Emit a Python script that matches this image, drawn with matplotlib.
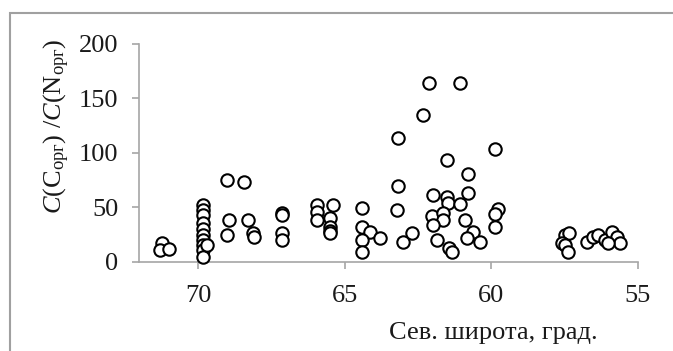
import matplotlib
matplotlib.use("Agg")
import matplotlib.pyplot as plt
from matplotlib.patches import Rectangle

plt.rcParams['font.family'] = ['Liberation Serif', 'DejaVu Serif']
plt.rcParams['mathtext.fontset'] = 'custom'
plt.rcParams['mathtext.rm'] = 'Liberation Serif'
plt.rcParams['mathtext.it'] = 'Liberation Serif:italic'

latitude = [
    71.25, 71.31, 70.99,
    69.85, 69.85, 69.85, 69.85, 69.85, 69.85, 69.85, 69.85, 69.85, 69.85, 69.71,
    69.03, 68.94, 69.03, 68.43, 68.29, 68.12, 68.09,
    67.15, 67.15, 67.15, 67.15,
    65.95, 65.95, 65.95, 65.39, 65.50, 65.50, 65.50, 65.50,
    64.42, 64.42, 64.14, 63.79, 64.42, 64.42,
    63.17, 63.17, 63.23, 63.00, 62.71, 62.32, 62.11, 61.07,
    61.98, 61.50, 61.46, 61.06, 60.78, 62.03, 61.64, 61.64, 61.98,
    60.89, 60.61, 60.84, 60.38, 61.86, 61.43, 61.35, 61.52, 60.78,
    59.87, 59.76, 59.87, 59.87,
    57.48, 57.35, 57.59, 57.48, 57.37,
    56.74, 56.51, 56.34, 56.11, 55.89, 55.72, 55.60, 56.00,
]
ratio = [
    16.7, 10.6, 11.2,
    52, 47, 43, 35, 30, 24, 20, 15, 11, 4.5, 15,
    75, 38.2, 24.4, 73.4, 38.2, 25.9, 22.3,
    44.3, 42.5, 25.9, 19.8,
    52, 45.8, 38.2, 52, 39.7, 32, 28, 26,
    49, 32, 27.4, 21.3, 19.8, 9,
    113.3, 69.5, 47.4, 18.2, 25.9, 134.8, 163.9, 164.5,
    61.2, 59.6, 54.1, 52.9, 62.7, 41.9, 44.3, 38.2, 33.6,
    38.2, 27.4, 21.3, 18.2, 19.8, 12.1, 9.0, 93.4, 80.5,
    103.2, 48, 43.7, 32,
    24.4, 26, 16.7, 15.2, 9,
    18.2, 22.8, 24.4, 19.8, 27.4, 22.8, 16.7, 16.7,
]
x_ticks = [70, 65, 60, 55]
y_ticks = [0, 50, 100, 150, 200]

fig = plt.figure(figsize=(6.73, 3.51), dpi=100)
ax = fig.add_axes([139/673, 1-261.5/351, (637.7-139)/673, (261.5-44)/351])

ax.scatter(latitude, ratio, s=80, facecolors='white', edgecolors='black',
           linewidths=1.5, zorder=3, clip_on=False)

ax.set_xlim(72.02, 55)
ax.set_ylim(0, 200)
ax.set_xticks(x_ticks)
ax.set_yticks(y_ticks)

grey = '#a6a6a6'
for s in ['top', 'right']:
    ax.spines[s].set_visible(False)
for s in ['left', 'bottom']:
    ax.spines[s].set_color(grey)
    ax.spines[s].set_linewidth(1.2)
ax.tick_params(axis='both', colors=grey, labelcolor='#1a1a1a', labelsize=19,
               direction='out', length=5, width=1.2)
ax.tick_params(axis='y', pad=10)
ax.tick_params(axis='x', pad=12)

ax.set_ylabel(r"$\mathit{C}$(C$_{\mathrm{орг}}$) /$\mathit{C}$(N$_{\mathrm{орг}}$)",
              fontsize=19, color='#1a1a1a')
ax.yaxis.set_label_coords(-0.135, 0.62)
ax.set_xlabel("Сев. широта, град.", fontsize=19, color='#1a1a1a')
ax.xaxis.set_label_coords(0.71, -0.28)

fig.patches.append(Rectangle((10/673, -0.1), 1.2, 1.1 - 13/351,
                             transform=fig.transFigure, fill=False,
                             edgecolor='#a0a0a0', linewidth=1.5))

fig.savefig('out.png', dpi=100)
